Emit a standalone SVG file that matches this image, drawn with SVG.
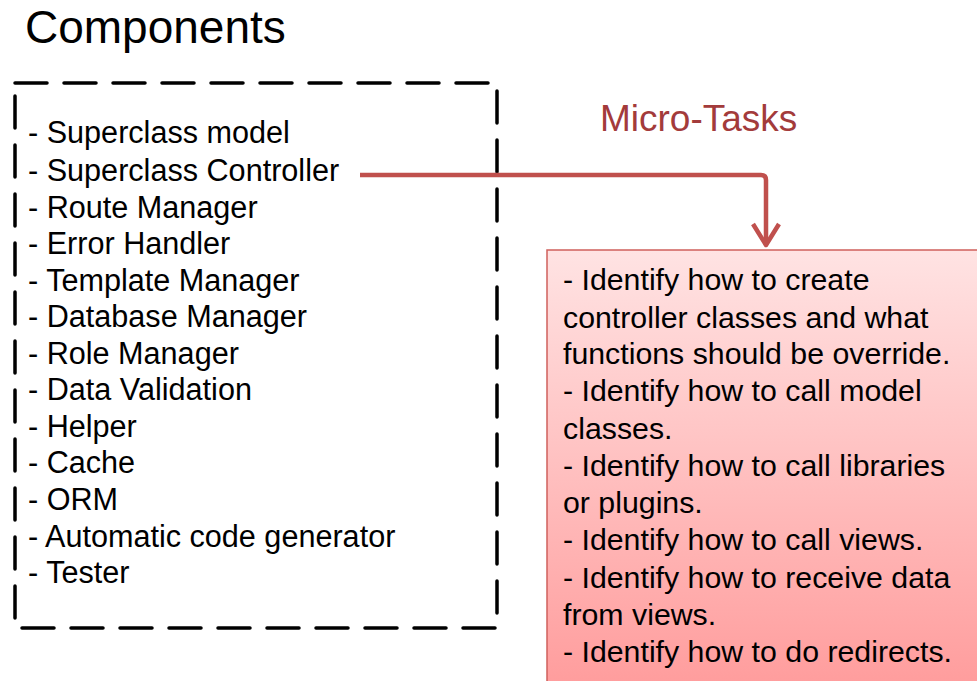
<svg xmlns="http://www.w3.org/2000/svg" width="977" height="681" viewBox="0 0 977 681">
  <style>
    .title { font-family: "Liberation Sans", Arial, sans-serif; font-size: 46px; fill: #000; }
    .item { font-family: "Liberation Sans", Arial, sans-serif; font-size: 30.6px; fill: #000; }
    .task { font-family: "Liberation Sans", Arial, sans-serif; font-size: 30.3px; fill: #000; }
    .label { font-family: "Liberation Sans", Arial, sans-serif; font-size: 37px; fill: #a33b3b; }
    .frame { fill: none; stroke: #000; stroke-width: 3.5; stroke-dasharray: 32 17; stroke-linecap: round; }
    .link { fill: none; stroke: #c0504d; stroke-width: 4.5; stroke-linejoin: round; }
  </style>
  <defs>
    <linearGradient id="taskFill" x1="0" y1="0" x2="0" y2="1">
      <stop offset="0" stop-color="#ffe3e3"/>
      <stop offset="1" stop-color="#ff9c9c"/>
    </linearGradient>
  </defs>
  <rect width="977" height="681" fill="#fff"/>

  <g id="components">
    <text class="title" x="25" y="43">Components</text>
    <rect class="frame" x="15" y="83" width="482" height="545"/>
    <g>
      <text class="item" x="28" y="143">- Superclass model</text>
      <text class="item" x="28" y="181">- Superclass Controller</text>
      <text class="item" x="28" y="218">- Route Manager</text>
      <text class="item" x="28" y="254">- Error Handler</text>
      <text class="item" x="28" y="291">- Template Manager</text>
      <text class="item" x="28" y="327">- Database Manager</text>
      <text class="item" x="28" y="364">- Role Manager</text>
      <text class="item" x="28" y="400">- Data Validation</text>
      <text class="item" x="28" y="437">- Helper</text>
      <text class="item" x="28" y="473">- Cache</text>
      <text class="item" x="28" y="510">- ORM</text>
      <text class="item" x="28" y="547">- Automatic code generator</text>
      <text class="item" x="28" y="583">- Tester</text>
    </g>
  </g>

  <g id="micro-tasks">
    <text class="label" x="600" y="131">Micro-Tasks</text>
    <rect x="547" y="250" width="440" height="440" fill="url(#taskFill)" stroke="#d0605c" stroke-width="1.5"/>
    <g>
      <text class="task" x="563" y="290">- Identify how to create</text>
      <text class="task" x="563" y="328">controller classes and what</text>
      <text class="task" x="563" y="364">functions should be override.</text>
      <text class="task" x="563" y="401">- Identify how to call model</text>
      <text class="task" x="563" y="439">classes.</text>
      <text class="task" x="563" y="476">- Identify how to call libraries</text>
      <text class="task" x="563" y="513">or plugins.</text>
      <text class="task" x="563" y="550">- Identify how to call views.</text>
      <text class="task" x="563" y="588">- Identify how to receive data</text>
      <text class="task" x="563" y="625">from views.</text>
      <text class="task" x="563" y="662">- Identify how to do redirects.</text>
    </g>
  </g>

  <g id="connectors">
    <path class="link" d="M360 175 H761 Q766 175 766 180 V245"/>
    <path class="link" d="M753 224 L766 245 L779 224"/>
  </g>
</svg>
